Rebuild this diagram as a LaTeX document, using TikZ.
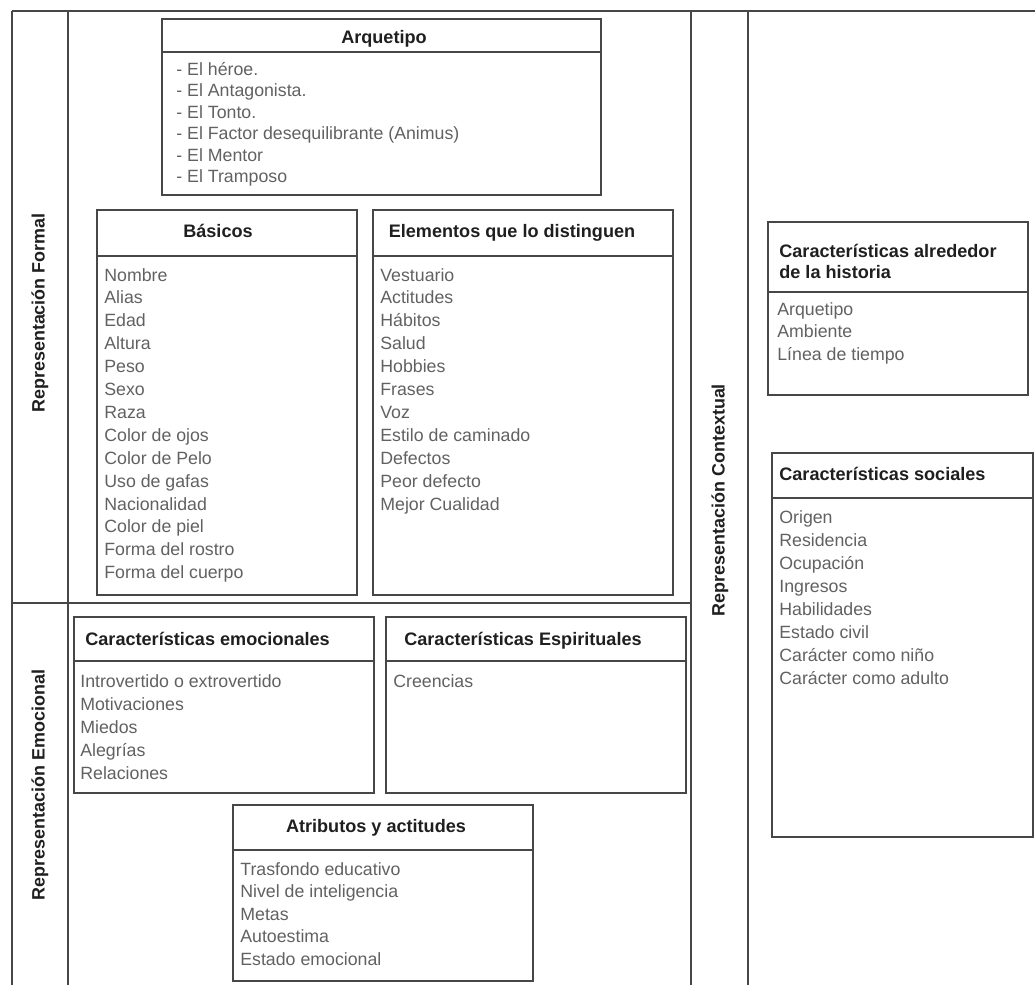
\documentclass[tikz,border=0pt]{standalone}
\usepackage{fontspec}
\setmainfont{Liberation Sans}
\usepackage{tikz}
\usetikzlibrary{positioning}

\begin{document}
\begin{tikzpicture}[
    x=0.02cm, y=-0.02cm,
    frame/.style={draw=black!72, line width=1.1pt},
    box/.style  ={draw=black!72, line width=1.1pt},
    head/.style ={font=\fontsize{10.3}{12}\selectfont\bfseries, text=black!88, anchor=base, inner sep=0},
    headl/.style={head, anchor=base west},
    item/.style ={font=\fontsize{10.1}{12}\selectfont, text=black!62, anchor=base west, inner sep=0},
    side/.style ={font=\fontsize{10.2}{12}\selectfont\bfseries, text=black!88, rotate=90, inner sep=0}
  ]
  \useasboundingbox (0,0) rectangle (1035,985);

  %% ---- outer frame ---------------------------------------------------
  \draw[frame] (12,11) -- (1035,11);
  \draw[frame] (12,11) -- (12,985);
  \draw[frame] (68,11) -- (68,985);
  \draw[frame] (691,11) -- (691,985);
  \draw[frame] (748,11) -- (748,985);
  \draw[frame] (12,603) -- (691,603);

  \node[side] (formal)   at (40,313)  {Representación Formal};
  \node[side] (emocion)  at (40,785)  {Representación Emocional};
  \node[side] (contexto) at (720,500) {Representación Contextual};

  %% ---- arquetipo -----------------------------------------------------
  \draw[box] (162,19) rectangle (601,195);
  \draw[box] (162,52) -- (601,52);
  \node[head] (arq) at (384,43) {Arquetipo};
  \foreach \t [count=\i from 0] in {- El héroe., - El Antagonista., - El Tonto.,
      - El Factor desequilibrante (Animus), - El Mentor, - El Tramposo}
    \node[item] (arq\i) at (176,75+21.5*\i) {\t};

  %% ---- basicos / elementos -------------------------------------------
  \draw[box] (97,210) rectangle (357,595);
  \draw[box] (97,256) -- (357,256);
  \node[head] (bas) at (218,237) {Básicos};
  \foreach \t [count=\i from 0] in {Nombre, Alias, Edad, Altura, Peso, Sexo, Raza,
      Color de ojos, Color de Pelo, Uso de gafas, Nacionalidad, Color de piel,
      Forma del rostro, Forma del cuerpo}
    \node[item] (bas\i) at (104,281+22.9*\i) {\t};

  \draw[box] (373,210) rectangle (673,595);
  \draw[box] (373,256) -- (673,256);
  \node[head] (ele) at (512,237) {Elementos que lo distinguen};
  \foreach \t [count=\i from 0] in {Vestuario, Actitudes, Hábitos, Salud, Hobbies,
      Frases, Voz, Estilo de caminado, Defectos, Peor defecto, Mejor Cualidad}
    \node[item] (ele\i) at (380,281+22.9*\i) {\t};

  %% ---- emocional -----------------------------------------------------
  \draw[box] (74,617) rectangle (374,793);
  \draw[box] (74,661) -- (374,661);
  \node[headl] (emo) at (85,645) {Características emocionales};
  \foreach \t [count=\i from 0] in {Introvertido o extrovertido, Motivaciones,
      Miedos, Alegrías, Relaciones}
    \node[item] (emo\i) at (80,687+23.2*\i) {\t};

  \draw[box] (386,617) rectangle (686,793);
  \draw[box] (386,661) -- (686,661);
  \node[head] (esp) at (523,645) {Características Espirituales};
  \node[item] (esp0) at (393,687) {Creencias};

  \draw[box] (233,805) rectangle (533,981);
  \draw[box] (233,850) -- (533,850);
  \node[head] (atr) at (376,832) {Atributos y actitudes};
  \foreach \t [count=\i from 0] in {Trasfondo educativo, Nivel de inteligencia,
      Metas, Autoestima, Estado emocional}
    \node[item] (atr\i) at (240,875+22.5*\i) {\t};

  %% ---- contextual ----------------------------------------------------
  \draw[box] (768,222) rectangle (1028,395);
  \draw[box] (768,292) -- (1028,292);
  \node[headl] (his1) at (779,257) {Características alrededor};
  \node[headl] (his2) at (779,278) {de la historia};
  \foreach \t [count=\i from 0] in {Arquetipo, Ambiente, Línea de tiempo}
    \node[item] (his\i) at (777,315+22.5*\i) {\t};

  \draw[box] (772,453) rectangle (1033,837);
  \draw[box] (772,498) -- (1033,498);
  \node[headl] (soc) at (779,480) {Características sociales};
  \foreach \t [count=\i from 0] in {Origen, Residencia, Ocupación, Ingresos,
      Habilidades, Estado civil, Carácter como niño, Carácter como adulto}
    \node[item] (soc\i) at (779,523+23*\i) {\t};

\end{tikzpicture}
\end{document}
